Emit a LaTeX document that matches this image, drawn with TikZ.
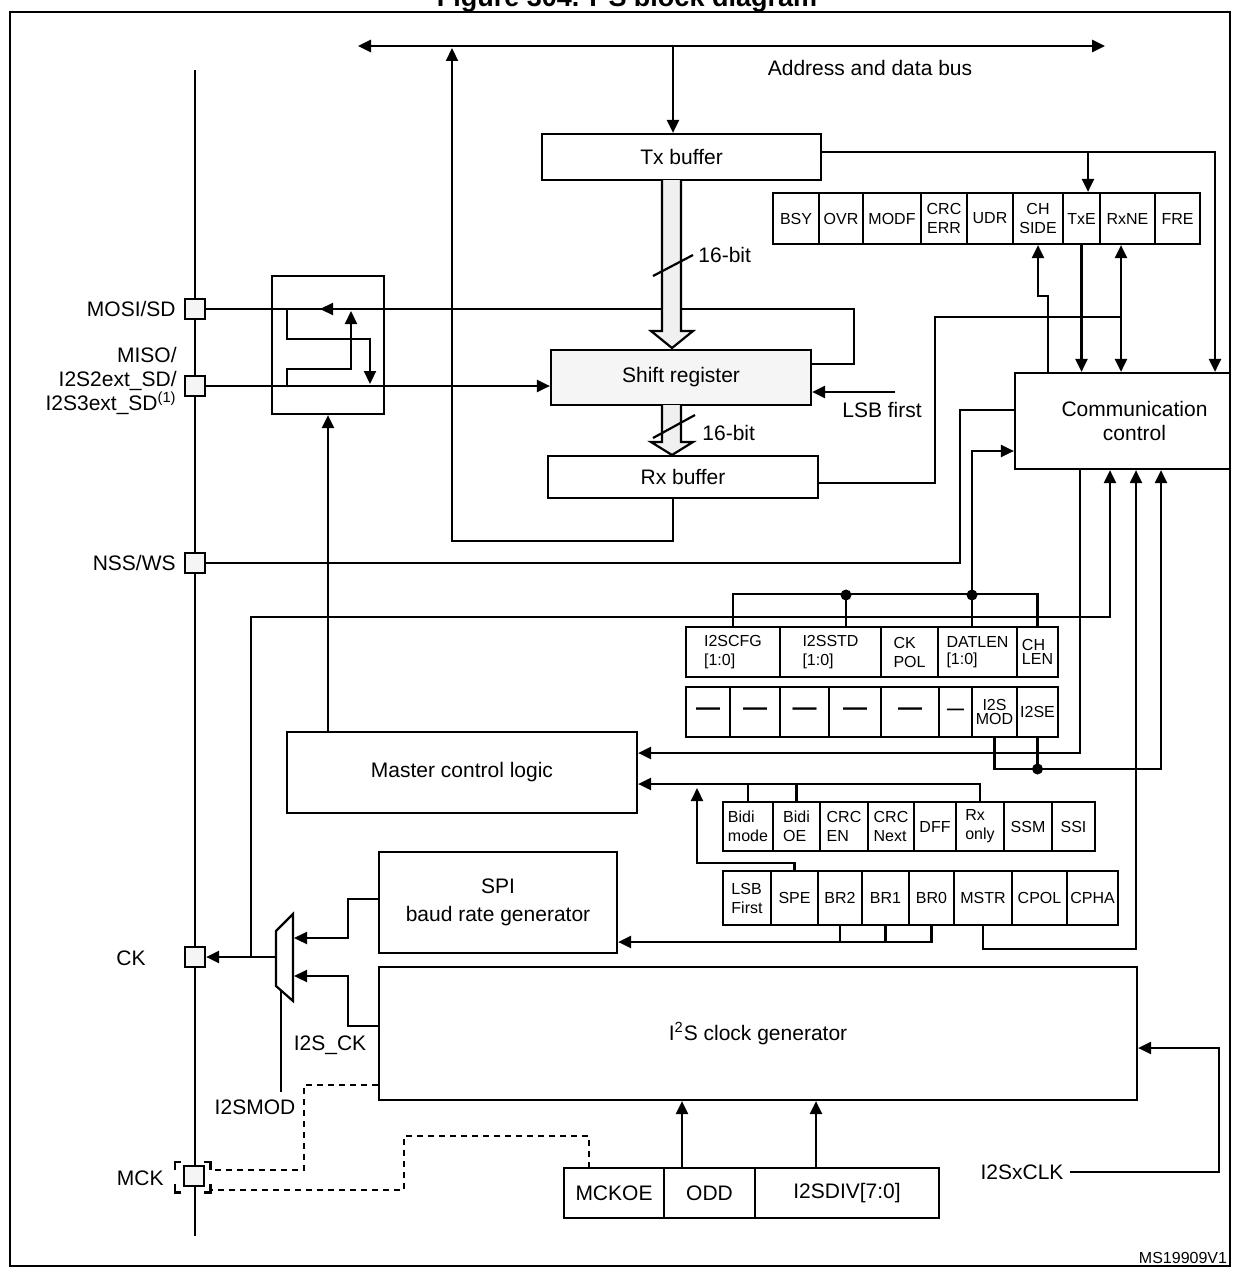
\documentclass[tikz,border=0pt]{standalone}
\usepackage{fontspec}
\setmainfont{Liberation Sans}
\usetikzlibrary{arrows.meta}
\newcommand\mainsz{\fontsize{10.5}{12}\selectfont}
\newcommand\cellsz{\fontsize{8}{9.5}\selectfont}
\newcommand\dashbig{\fontsize{12}{12}\selectfont\bfseries}
\newcommand\dashsm{\fontsize{8.5}{8.5}\selectfont\bfseries}
\newcommand\titlesz{\fontsize{13.5}{15}\selectfont\bfseries}
\def\blk[#1](#2,#3)(#4,#5)#6#7{\node[#1, minimum width={(#4-#2)*0.5pt}, minimum height={(#5-#3)*0.5pt}] (#6) at ({(#2+#4)/2},{(#3+#5)/2}) {#7};}
\tikzset{
	box/.style={draw, line width=1.1pt, inner sep=0pt, font=\mainsz, align=center},
	cell/.style={box, font=\cellsz},
	padbox/.style={draw, fill=black!4, line width=1.1pt, minimum size=10pt, inner sep=0pt},
	wire/.style={line width=1.1pt},
	dotwire/.style={line width=1.1pt, dash pattern=on 3pt off 2.5pt},
	lbl/.style={font=\mainsz, inner sep=0pt},
	jdot/.style={fill, circle, inner sep=0pt, minimum size=5.5pt}
}

\begin{document}
\begin{tikzpicture}[x=0.5pt, y=-0.5pt, >={Triangle[length=6.5pt,width=6pt]}]
			%%%%% START %%%%%
			\useasboundingbox (0,0) rectangle (1232,1268);
			\node[font=\titlesz, anchor=base] (title) at (627,7) {Figure 304. I\textsuperscript{2}S block diagram};
			\draw[line width=1.4pt] (10,12) rectangle (1230,1266);
			
			\coordinate (busL) at (358,46);
			\coordinate (busR) at (1105,46);
			\coordinate (bustx) at (673,46);
			\coordinate (busret) at (452,48);
			\draw[line width=1.4pt, <->] (busL) -- (busR);
			\node[lbl] (buslbl) at (870,68) {Address and data bus};
			
			\coordinate (pintop) at (195,70);
			\coordinate (pinbot) at (195,1236);
			\draw[wire] (pintop) -- (pinbot);
			\node[padbox] (mosi) at (195,309) {};
			\node[padbox] (miso) at (195,386) {};
			\node[padbox] (nss) at (195,563) {};
			\node[padbox] (ck) at (195,957) {};
			\node[padbox] (mck) at (194,1176) {};
			\node[minimum width=17.5pt, minimum height=15pt, inner sep=0pt] (mckbr) at (192.5,1177) {};
			\foreach \a/\sx/\sy in {north west/1/-1, north east/-1/-1, south west/1/1, south east/-1/1}
				\draw[wire] ([xshift=\sx*3pt]mckbr.\a) -| ([yshift=\sy*4pt]mckbr.\a);
			
			\node[lbl, anchor=east] (mosilbl) at (176,309) {MOSI/SD};
			\node[lbl, anchor=east, align=right] (misolbl) at (177,381) {MISO/\\I2S2ext\_SD/\\I2S3ext\_SD\textsuperscript{(1)}};
			\node[lbl, anchor=east] (nsslbl) at (176,563) {NSS/WS};
			\node[lbl] (cklbl) at (131,958) {CK};
			\node[lbl, anchor=east] (mcklbl) at (164,1178) {MCK};
			
			\blk[box](272,276)(384,414){sw}{}
			\blk[box](542,134)(821,180){tx}{Tx buffer}
			\blk[box, fill=black!4](551,350)(811,405){sr}{Shift register}
			\blk[box](548,456)(818,498){rx}{Rx buffer}
			\blk[box](1015,373)(1230,469){comm}{\hspace*{12pt}Communication\\\hspace*{12pt}control}
			\blk[box](287,732)(637,813){master}{Master control logic}
			\blk[box](379,852)(617,953){spi}{SPI\\[2pt]baud rate generator}
			\blk[box](379,967)(1137,1100){i2sclk}{I\textsuperscript{2}S clock generator}
			
			\foreach \xa/\xb/\nm/\txt in {773/819/bsy/BSY, 819/863/ovr/OVR, 863/921/modf/MODF, 921/967/crcerr/{CRC\\ERR}, 967/1013/udr/UDR, 1013/1063/chside/{CH\\SIDE}, 1063/1100/txe/TxE, 1100/1155/rxne/RxNE, 1155/1200/fre/FRE}
				{\blk[cell](\xa,193)(\xb,244){\nm}{\txt}}
			\foreach \xa/\xb/\nm/\txt in {686/780/cfg/{I2SCFG\\{}[1:0]}, 780/881/std/{I2SSTD\\{}[1:0]}, 881/938/ckpol/{CK\\POL}, 938/1017/datlen/{DATLEN\\[-1pt]{}[1:0]}, 1017/1058/chlen/{CH\\[-2.5pt]LEN}}
				{\blk[cell, align=left](\xa,627)(\xb,677){\nm}{\txt}}
			\foreach \xa/\xb/\nm/\txt in {686/730/d1/{\dashbig —}, 730/780/d2/{\dashbig —}, 780/829/d3/{\dashbig —}, 829/881/d4/{\dashbig —}, 881/939/d5/{\dashbig —}, 939/972/d6/{\dashsm —}, 972/1017/i2smod/{I2S\\[-2.5pt]MOD}, 1017/1058/i2se/I2SE}
				{\blk[cell](\xa,687)(\xb,737){\nm}{\txt}}
			\foreach \xa/\xb/\nm/\txt in {723/773/bidim/{Bidi\\mode}, 773/820/bidioe/{Bidi\\OE}, 820/868/crcen/{CRC\\EN}, 868/914/crcnx/{CRC\\Next}, 914/956/dff/DFF, 956/1004/rxonly/{Rx\\only}, 1004/1052/ssm/SSM, 1052/1095/ssi/SSI}
				{\blk[cell, align=left](\xa,802)(\xb,851){\nm}{\txt}}
			\foreach \xa/\xb/\nm/\txt in {723/771/lsbf/{LSB\\First}, 771/818/spe/SPE, 818/862/br2/BR2, 862/909/br1/BR1, 909/954/br0/BR0, 954/1012/mstr/MSTR, 1012/1067/cpol/CPOL, 1067/1118/cpha/CPHA}
				{\blk[cell, align=left](\xa,871)(\xb,925){\nm}{\txt}}
			\foreach \xa/\xb/\nm/\txt in {564/664/mckoe/MCKOE, 664/755/odd/ODD, 755/939/i2sdiv/{I2SDIV[7:0]}}
				{\blk[box](\xa,1168)(\xb,1218){\nm}{\txt}}
			
			\draw[wire, ->] (bustx) -- (bustx |- tx.north);
			\draw[wire, ->] (rx.south -| bustx) -- ++(0,42) -| (busret);
			
			\coordinate (txtap) at (1088,152);
			\draw[wire, ->] ([yshift=2.5pt]tx.east) -| (comm.north -| 1215,0);
			\draw[wire, ->] (txtap) -- (txtap |- txe.north);
			\draw[wire, ->] (txe.south) -- (txe.south |- comm.north);
			\coordinate (chsd) at (1048,296);
			\draw[wire, ->] (chsd |- comm.north) -- (chsd) -| (chside.south);
			\coordinate (rxj) at (1121,317);
			\draw[wire] (rx.east |- 0,483) -| (935,317) -- (rxj);
			\draw[wire, ->] (rxj) -- (rxj |- rxne.south);
			\draw[wire, ->] (rxj) -- (rxj |- comm.north);
			
			\coordinate (swtx) at (320,309);
			\coordinate (swa) at (287,309);
			\coordinate (swb) at (287,386);
			\draw[wire] (sr.east |- 0,364) -- ++(42,0) |- (mosi.east);
			\draw[wire, ->] (sw.east |- mosi) -- (swtx);
			\draw[wire, ->] (miso.east) -- (miso.east -| sr.west);
			\draw[wire, ->] (swa) |- (370,339) -- (370,384);
			\draw[wire, ->] (swb) |- (351,369) -- (351,311);
			\draw[wire, ->] (master.north -| sw.south) -- (sw.south);
			
			\draw[wire, fill=black!6] (662,180) -- (662,331) -- (651,331) -- (672,348) -- (693,331) -- (681,331) -- (681,180);
			\draw[wire, fill=black!6] (662,405) -- (662,442) -- (651,442) -- (672,455) -- (693,442) -- (681,442) -- (681,405);
			\draw[wire] (653,276) -- (693,255);
			\node[lbl, anchor=west] (bits1) at (698,255) {16-bit};
			\draw[wire] (653,438) -- (695,415);
			\node[lbl, anchor=west] (bits2) at (702,433) {16-bit};
			
			\coordinate (lsbin) at (895,392);
			\node[lbl] (lsblbl) at (882,410) {LSB first};
			\draw[wire, ->] (lsbin) -- (lsbin -| sr.east);
			
			\draw[wire] (nss.east) -| (960,410) -- (comm.west |- 0,410);
			
			\coordinate (stdtap) at (846,595);
			\coordinate (dltap) at (972,595);
			\draw[wire] (cfg.north) -- ++(0,-32) -| (chlen.north);
			\draw[wire] (stdtap) -- (stdtap |- std.north);
			\draw[wire] (dltap) -- (dltap |- datlen.north);
			\node[jdot] (dstd) at (stdtap) {};
			\node[jdot] (ddl) at (dltap) {};
			\draw[wire, ->] (dltap) |- (comm.west |- 0,451);
			
			\coordinate (ckj) at (251,957);
			\coordinate (cktap) at (1110,617);
			\draw[wire, ->] (ckj) |- (cktap) -- (cktap |- comm.south);
			\coordinate (mtap) at (1080,753);
			\draw[wire, ->] (mtap |- comm.south) -- (mtap) -- (mtap -| master.east);
			
			\coordinate (modtap) at (1161,769);
			\draw[wire, ->] (i2smod.south) |- (modtap) -- (modtap |- comm.south);
			\draw[wire] (i2se.south) -- (i2se.south |- modtap);
			\node[jdot] (dse) at (i2se.south |- modtap) {};
			
			\coordinate (spej) at (697,788);
			\draw[wire, ->] (rxonly.north) |- (master.east |- 0,784);
			\draw[wire] (bidim.north) -- ++(0,-18);
			\draw[wire] (bidioe.north) -- ++(0,-18);
			\draw[wire, ->] (spe.north) -- ++(0,-7) -| (spej);
			
			\draw[wire, ->] (br0.south) |- (spi.east |- 0,942);
			\draw[wire] (br2.south) -- ++(0,17);
			\draw[wire] (br1.south) -- ++(0,17);
			\coordinate (mstap) at (1136,949);
			\draw[wire, ->] (mstr.south) |- (mstap) -- (mstap |- comm.south);
			
			\coordinate (muxout) at (276,957);
			\coordinate (muxin1) at (294,938);
			\coordinate (muxin2) at (294,976);
			\coordinate (muxbot) at (281,990);
			\draw[wire] (276,931) -- (293,914) -- (293,1001) -- (276,986) -- cycle;
			\draw[wire, ->] (muxout) -- (ck.east);
			\draw[wire, ->] (spi.west |- 0,899) -| (348,938) -- (muxin1);
			\draw[wire, ->] (i2sclk.west |- 0,1026) -| (348,976) -- (muxin2);
			\draw[wire] (muxbot) -- ++(0,102);
			\node[lbl] (modlbl) at (255,1107) {I2SMOD};
			\node[lbl] (i2scklbl) at (330,1045) {I2S\_CK};
			
			\coordinate (oddup) at (682,1168);
			\coordinate (divup) at (816,1168);
			\draw[wire, ->] (oddup) -- (oddup |- i2sclk.south);
			\draw[wire, ->] (divup) -- (divup |- i2sclk.south);
			\coordinate (mckoeup) at (589,1168);
			\draw[dotwire] (i2sclk.west |- 0,1085) -| (304,1170) -- (mckbr.east |- 0,1170);
			\draw[dotwire] (mckoeup) |- (404,1136) |- (mckbr.east |- 0,1190);
			
			\node[lbl] (clklbl) at (1022,1172) {I2SxCLK};
			\draw[wire, ->] ([xshift=3pt]clklbl.east) -| (1219,1048) -- (i2sclk.east |- 0,1048);
			
			\node[font=\cellsz] (msid) at (1183,1258) {MS19909V1};
			%%%%% END %%%%%
\end{tikzpicture}
\end{document}
